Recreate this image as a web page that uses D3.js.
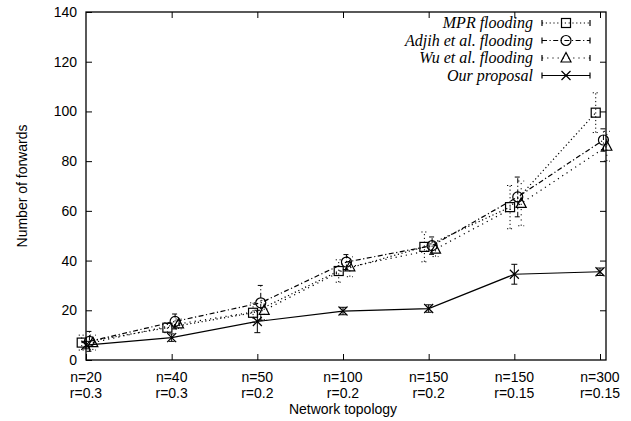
<!DOCTYPE html>
<html>
<head>
<meta charset="utf-8">
<script src="https://cdn.jsdelivr.net/npm/d3@7"></script>
<style>
  body { margin: 0; background: #fff; }
  svg { display: block; }
</style>
</head>
<body>
<div id="chart"></div>
<script>
// categories (x axis)
var topoN = ["n=20", "n=40", "n=50", "n=100", "n=150", "n=150", "n=300"];
var topoR = ["r=0.3", "r=0.3", "r=0.2", "r=0.2", "r=0.2", "r=0.15", "r=0.15"];

// series values and errors
var seriesNames = ["MPR flooding", "Adjih et al. flooding", "Wu et al. flooding", "Our proposal"];
var mprVals = [7, 13, 19, 35.8, 45.5, 61.5, 99.5];
var mprErr = [3, 2, 4, 4.5, 6, 8.7, 8];
var adjihVals = [7.5, 15.5, 23, 39.4, 46, 65.6, 88.5];
var adjihErr = [4, 3, 7, 3, 3.5, 8, 4.5];
var wuVals = [7, 14.5, 20, 37.5, 44.6, 63, 86];
var wuErr = [3, 2, 4, 4, 3, 9, 6];
var ourVals = [6, 9, 15.5, 19.7, 20.7, 34.5, 35.5];
var ourErr = [1.5, 1.5, 4.5, 1.5, 1.5, 4, 1.5];

var yTicks = [0, 20, 40, 60, 80, 100, 120, 140];

var width = 631, height = 421;
var margin = {left: 86, right: 25, top: 12, bottom: 61};

var svg = d3.select("#chart").append("svg")
    .attr("width", width)
    .attr("height", height);

var x = d3.scaleLinear().domain([0, 6.07]).range([margin.left, width - margin.right]);
var y = d3.scaleLinear().domain([0, 140]).range([height - margin.bottom, margin.top]);

var sansFont = "'Liberation Sans', Arial, sans-serif";

// style per series (dash, marker, small x offset)
var styles = [
    {dash: "1.2,2.6", marker: "square", dx: -0.05},
    {dash: "5,2.5,1.2,2.5", marker: "circle", dx: 0.04},
    {dash: "1.2,4", marker: "triangle", dx: 0.08},
    {dash: null, marker: "cross", dx: 0}
];

var series = [
    {name: seriesNames[0], vals: mprVals, err: mprErr},
    {name: seriesNames[1], vals: adjihVals, err: adjihErr},
    {name: seriesNames[2], vals: wuVals, err: wuErr},
    {name: seriesNames[3], vals: ourVals, err: ourErr}
];

/************ AXES ***************/
var yAxisL = d3.axisLeft(y).tickValues(yTicks).tickSize(-6).tickPadding(9);
var yAxisR = d3.axisRight(y).tickValues(yTicks.slice(1, -1)).tickSize(-6).tickFormat("");
var xAxisB = d3.axisBottom(x).tickValues(d3.range(7)).tickSize(-6).tickFormat("");
var xAxisT = d3.axisTop(x).tickValues(d3.range(1, 7)).tickSize(-6).tickFormat("");

function styleAxis(g) {
    g.select(".domain").remove();
    g.selectAll("line").attr("stroke", "#000").attr("stroke-width", 1);
    g.selectAll("text").attr("fill", "#000").style("font-family", sansFont).style("font-size", "14px");
}

svg.append("g").attr("transform", "translate(" + margin.left + ",0)").call(yAxisL).call(styleAxis);
svg.append("g").attr("transform", "translate(" + (width - margin.right) + ",0)").call(yAxisR).call(styleAxis);
svg.append("g").attr("transform", "translate(0," + (height - margin.bottom) + ")").call(xAxisB).call(styleAxis);
svg.append("g").attr("transform", "translate(0," + margin.top + ")").call(xAxisT).call(styleAxis);

// frame
svg.append("rect")
    .attr("x", margin.left).attr("y", margin.top)
    .attr("width", width - margin.left - margin.right)
    .attr("height", height - margin.top - margin.bottom)
    .attr("fill", "none").attr("stroke", "#000").attr("stroke-width", 1.3);

// x tick labels (two lines)
var xl = svg.append("g").style("font-family", sansFont).style("font-size", "14px");
topoN.forEach(function (t, i) {
    var txt = xl.append("text").attr("text-anchor", "middle").attr("x", x(i));
    txt.append("tspan").attr("x", x(i)).attr("y", 382).text(t);
    txt.append("tspan").attr("x", x(i)).attr("y", 398).text(topoR[i]);
});

// axis titles
svg.append("text")
    .attr("x", 343).attr("y", 414)
    .attr("text-anchor", "middle")
    .style("font-family", sansFont).style("font-size", "14px")
    .text("Network topology");

svg.append("text")
    .attr("transform", "translate(27,186) rotate(-90)")
    .attr("text-anchor", "middle")
    .style("font-family", sansFont).style("font-size", "14px")
    .text("Number of forwards");

/************ MARKERS ***************/
function drawMarker(g, type, cx, cy) {
    if (type === "square") {
        g.append("rect").attr("x", cx - 4.5).attr("y", cy - 4.5).attr("width", 9).attr("height", 9)
            .attr("fill", "none").attr("stroke", "#000").attr("stroke-width", 1.2);
    } else if (type === "circle") {
        g.append("circle").attr("cx", cx).attr("cy", cy).attr("r", 5)
            .attr("fill", "none").attr("stroke", "#000").attr("stroke-width", 1.2);
    } else if (type === "triangle") {
        g.append("path").attr("d", "M" + (cx - 5) + "," + (cy + 4) + "L" + (cx + 5) + "," + (cy + 4) + "L" + cx + "," + (cy - 5.5) + "Z")
            .attr("fill", "none").attr("stroke", "#000").attr("stroke-width", 1.2);
    } else {
        g.append("path").attr("d", "M" + (cx - 4.5) + "," + (cy - 4.5) + "L" + (cx + 4.5) + "," + (cy + 4.5) +
            "M" + (cx - 4.5) + "," + (cy + 4.5) + "L" + (cx + 4.5) + "," + (cy - 4.5))
            .attr("fill", "none").attr("stroke", "#000").attr("stroke-width", 1.2);
    }
}

/************ SERIES ***************/
var plot = svg.append("g");

series.forEach(function (s, k) {
    var st = styles[k];
    var g = plot.append("g");
    var line = d3.line()
        .x(function (d, i) { return x(i + st.dx); })
        .y(function (d) { return y(d); });

    g.append("path")
        .datum(s.vals)
        .attr("d", line)
        .attr("fill", "none")
        .attr("stroke", "#000")
        .attr("stroke-width", 1.2)
        .attr("stroke-dasharray", st.dash);

    // error bars
    s.vals.forEach(function (v, i) {
        var cx = x(i + st.dx);
        var eb = g.append("g").attr("stroke", "#000").attr("stroke-width", 1)
            .attr("stroke-dasharray", st.dash);
        eb.append("line").attr("x1", cx).attr("x2", cx).attr("y1", y(v - s.err[i])).attr("y2", y(v + s.err[i]));
        eb.append("line").attr("x1", cx - 3).attr("x2", cx + 3).attr("y1", y(v - s.err[i])).attr("y2", y(v - s.err[i]));
        eb.append("line").attr("x1", cx - 3).attr("x2", cx + 3).attr("y1", y(v + s.err[i])).attr("y2", y(v + s.err[i]));
        drawMarker(g, st.marker, cx, y(v));
    });
});

/************ LEGEND ***************/
var legend = svg.append("g");
series.forEach(function (s, k) {
    var st = styles[k];
    var ly = 23 + k * 17.5;
    legend.append("text")
        .attr("x", 533).attr("y", ly + 5)
        .attr("text-anchor", "end")
        .style("font-family", "'Liberation Serif', 'Times New Roman', serif")
        .style("font-style", "italic")
        .style("font-size", "16px")
        .text(s.name);
    var lg = legend.append("g").attr("stroke", "#000").attr("stroke-width", 1.2);
    lg.append("line").attr("x1", 542).attr("x2", 590).attr("y1", ly).attr("y2", ly)
        .attr("stroke-dasharray", st.dash);
    lg.append("line").attr("x1", 542).attr("x2", 542).attr("y1", ly - 3).attr("y2", ly + 3);
    lg.append("line").attr("x1", 590).attr("x2", 590).attr("y1", ly - 3).attr("y2", ly + 3);
    drawMarker(legend, st.marker, 566, ly);
});
</script>
</body>
</html>
